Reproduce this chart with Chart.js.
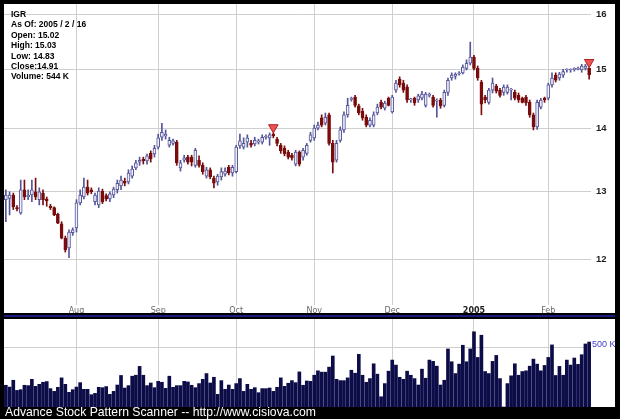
<!DOCTYPE html>
<html>
<head>
<meta charset="utf-8">
<script src="https://cdn.jsdelivr.net/npm/chart.js@4.4.1/dist/chart.umd.min.js"></script>
<style>
  html, body { margin: 0; padding: 0; background: #000; }
  body { width: 620px; height: 419px; position: relative; overflow: hidden; font-family: 'Liberation Sans', Arial, sans-serif; }
  #price { position: absolute; left: 4px; top: 4px; background: #fff; }
  #volume { position: absolute; left: 4px; top: 319px; background: #fff; }
  #sep { position: absolute; left: 4px; top: 315px; width: 611px; height: 2px; background: #1a1a80; }
  #info { position: absolute; left: 11px; top: 9px; font-size: 8.5px; line-height: 10.4px; font-weight: bold; color: #000; }
  #footer { position: absolute; left: 5px; top: 406px; font-size: 12.2px; line-height: 13px; color: #fff; white-space: nowrap; }
</style>
</head>
<body>
<canvas id="price" width="611" height="309"></canvas>
<div id="sep"></div>
<canvas id="volume" width="611" height="88"></canvas>
<div id="info">IGR<br>As Of: 2005 / 2 / 16<br>Open: 15.02<br>High: 15.03<br>Low: 14.83<br>Close:14.91<br>Volume: 544 K</div>
<div id="footer">Advance Stock Pattern Scanner -- http://www.cisiova.com</div>
<script>
// daily candles, 2004/7/6 .. 2005/2/16
var opens = [
  12.87,12.89,12.94,12.75,12.67,13.02,12.91,12.94,12.99,12.87,
  12.97,12.88,12.77,12.75,12.65,12.51,12.30,12.16,12.38,12.45,
  12.82,12.91,13.06,13.02,12.84,12.79,13.00,12.93,12.88,12.94,
  13.02,13.08,13.15,13.14,13.23,13.36,13.45,13.50,13.47,13.59,
  13.58,13.69,13.85,13.87,13.72,13.75,13.77,13.36,13.48,13.53,
  13.53,13.40,13.48,13.40,13.23,13.33,13.20,13.14,13.22,13.26,
  13.37,13.28,13.30,13.71,13.69,13.77,13.75,13.74,13.77,13.77,
  13.85,13.84,13.90,13.82,13.72,13.67,13.61,13.56,13.42,13.61,
  13.53,13.59,13.80,13.84,14.00,14.17,14.08,14.22,13.75,13.48,
  13.80,13.97,14.22,14.48,14.52,14.37,14.28,14.18,14.05,14.05,
  14.25,14.43,14.33,14.50,14.27,14.64,14.83,14.76,14.69,14.47,
  14.50,14.47,14.50,14.38,14.55,14.52,14.45,14.47,14.38,14.60,
  14.85,14.88,14.92,14.94,15.02,15.11,15.22,15.02,14.78,14.52,
  14.43,14.64,14.71,14.64,14.60,14.60,14.64,14.60,14.55,14.50,
  14.52,14.43,14.22,14.02,14.35,14.50,14.50,14.73,14.90,14.85,
  14.90,14.99,14.99,15.00,15.00,14.99,15.02,15.02];
var closes = [
  12.94,12.94,12.76,12.73,13.02,12.91,12.94,13.02,12.91,12.99,
  12.87,12.85,12.75,12.64,12.52,12.30,12.13,12.39,12.42,12.82,
  12.94,13.06,12.97,12.99,12.94,13.00,12.84,12.88,12.96,13.03,
  13.12,13.17,13.12,13.28,13.34,13.44,13.48,13.47,13.55,13.50,
  13.67,13.84,13.93,13.90,13.80,13.79,13.44,13.44,13.52,13.45,
  13.45,13.64,13.40,13.30,13.33,13.22,13.12,13.23,13.30,13.31,
  13.28,13.37,13.69,13.79,13.75,13.84,13.72,13.80,13.79,13.85,
  13.86,13.89,13.87,13.75,13.63,13.58,13.53,13.52,13.61,13.42,
  13.64,13.72,13.89,14.00,14.05,14.05,14.18,13.75,13.45,13.75,
  13.97,14.22,14.38,14.50,14.38,14.25,14.17,14.05,14.13,14.22,
  14.35,14.35,14.42,14.38,14.52,14.76,14.73,14.64,14.47,14.49,
  14.42,14.54,14.57,14.57,14.56,14.38,14.46,14.37,14.60,14.81,
  14.90,14.92,14.93,15.04,15.11,15.22,15.02,14.85,14.40,14.47,
  14.64,14.76,14.62,14.55,14.69,14.69,14.65,14.50,14.47,14.43,
  14.42,14.22,14.02,14.43,14.47,14.47,14.73,14.85,14.81,14.92,
  14.96,15.00,15.00,15.01,15.02,15.06,15.06,14.91];
var highs = [
  13.02,12.99,12.97,12.78,13.17,13.17,13.02,13.17,13.20,13.05,
  13.02,12.91,12.80,12.76,12.67,12.54,12.33,12.42,12.45,12.87,
  13.02,13.20,13.17,13.05,12.97,13.05,13.03,12.96,12.99,13.06,
  13.17,13.23,13.20,13.33,13.39,13.48,13.53,13.53,13.58,13.63,
  13.72,13.90,14.08,13.97,13.85,13.82,13.80,13.48,13.56,13.56,
  13.56,13.67,13.55,13.44,13.37,13.36,13.23,13.26,13.36,13.36,
  13.40,13.40,13.72,13.90,13.84,13.89,13.80,13.85,13.82,13.89,
  13.89,13.92,13.92,13.85,13.75,13.71,13.64,13.59,13.64,13.63,
  13.67,13.75,13.93,14.05,14.10,14.22,14.25,14.25,13.80,13.80,
  14.02,14.27,14.50,14.52,14.55,14.40,14.33,14.22,14.17,14.27,
  14.40,14.47,14.45,14.52,14.55,14.81,14.87,14.81,14.73,14.50,
  14.52,14.57,14.62,14.60,14.59,14.55,14.49,14.50,14.64,14.85,
  14.94,14.94,14.96,15.08,15.17,15.49,15.25,15.06,14.81,14.55,
  14.67,14.85,14.74,14.67,14.73,14.73,14.67,14.64,14.59,14.52,
  14.55,14.47,14.25,14.47,14.50,14.52,14.76,14.94,14.94,14.95,
  15.00,15.01,15.01,15.03,15.04,15.09,15.09,15.03];
var lows = [
  12.54,12.64,12.72,12.70,12.65,12.87,12.87,12.84,12.87,12.79,
  12.79,12.77,12.72,12.63,12.51,12.29,12.10,12.02,12.34,12.39,
  12.79,12.88,12.94,12.96,12.79,12.75,12.81,12.85,12.84,12.90,
  12.97,13.02,13.08,13.11,13.20,13.33,13.40,13.42,13.42,13.45,
  13.53,13.66,13.80,13.82,13.69,13.72,13.40,13.31,13.45,13.42,
  13.39,13.37,13.37,13.26,13.20,13.19,13.05,13.09,13.17,13.23,
  13.25,13.23,13.28,13.67,13.66,13.69,13.69,13.71,13.74,13.74,
  13.82,13.72,13.84,13.71,13.59,13.55,13.50,13.48,13.39,13.39,
  13.48,13.56,13.77,13.80,13.97,14.02,14.05,13.72,13.28,13.45,
  13.77,13.93,14.18,14.45,14.35,14.22,14.13,14.02,14.02,14.02,
  14.22,14.32,14.30,14.37,14.25,14.60,14.69,14.60,14.43,14.43,
  14.38,14.43,14.47,14.35,14.52,14.35,14.18,14.33,14.35,14.55,
  14.81,14.83,14.90,14.92,14.99,15.08,14.99,14.81,14.22,14.42,
  14.40,14.59,14.59,14.52,14.55,14.57,14.47,14.47,14.43,14.42,
  14.38,14.18,13.97,13.98,14.32,14.43,14.47,14.69,14.78,14.81,
  14.86,14.95,14.95,14.97,14.99,14.95,14.99,14.83];
// volume in K shares
var volumes = [
  182,167,224,139,145,182,179,232,173,190,
  207,213,154,131,165,244,190,123,145,167,
  204,148,148,103,114,165,162,171,106,131,
  184,264,159,179,258,266,340,266,179,201,
  162,215,207,156,258,165,179,179,215,210,
  182,162,196,232,280,201,249,106,221,148,
  184,148,196,238,131,190,148,162,120,154,
  154,159,131,165,244,173,199,221,204,294,
  182,218,215,266,303,292,292,334,427,232,
  221,221,244,308,283,441,266,207,238,362,
  275,86,196,300,393,351,249,232,300,266,
  238,184,317,241,393,382,342,184,224,486,
  379,280,359,517,379,486,630,415,601,297,
  280,382,432,238,0,196,261,362,266,297,
  303,342,401,359,303,348,415,520,264,340,
  266,393,351,410,357,438,528,544];

var monthNames = ['Aug', 'Sep', 'Oct', 'Nov', 'Dec', '2005', 'Feb'];
var monthStart = [19, 41, 62, 83, 104, 126, 146];
var priceTicks = [12, 13, 14, 15, 16];
var volumeTicks = [500];
var markers = [72, 157]; // pattern signals

var UP = '#55559a', UPFILL = '#eeeef6', DOWN = '#7a0c0c', GRID = '#cfcfcf';
var FONT = "'Liberation Sans', Arial, sans-serif";

var labels = opens.map(function(o, i){ return i; });
var isUp = function(i){ return closes[i] >= opens[i]; };

//keep the plot area fixed, no room for edge labels
var noPad = function(s){ s.paddingLeft = s.paddingRight = s.paddingTop = s.paddingBottom = 0; };

var monthAxis = function(showLabels){
  return {
    type: 'category', offset: true,
    grid: { color: GRID, offset: false, drawTicks: false },
    border: { display: false },
    afterBuildTicks: function(s){ s.ticks = monthStart.map(function(v){ return { value: v }; }); },
    afterFit: function(s){ s.height = showLabels ? 8 : 0; noPad(s); },
    ticks: {
      display: showLabels, autoSkip: false, maxRotation: 0, padding: 1,
      color: function(c){ return c.index === 5 ? '#222' : '#6a6a6a'; },
      font: function(c){ return { family: "'DejaVu Sans', Verdana, sans-serif", size: 8, weight: c.index === 5 ? 'bold' : 'normal' }; },
      callback: function(v, i){ return monthNames[i]; }
    }
  };
};

var markerData = labels.map(function(i){
  return markers.indexOf(i) >= 0 ? highs[i] * 1.0065 : null;
});

new Chart(document.getElementById('price'), {
  type: 'bar',
  data: {
    labels: labels,
    datasets: [{
      type: 'line', data: markerData, showLine: false, order: 0,
      pointStyle: 'triangle', rotation: 180, pointRadius: 5.5,
      backgroundColor: '#e85454', borderColor: '#b82020', borderWidth: 1
    }, {
      data: opens.map(function(o, i){ return [o, closes[i]]; }), order: 1,
      grouped: false, barThickness: 3, minBarLength: 1, borderWidth: 1, borderSkipped: false,
      backgroundColor: labels.map(function(i){ return isUp(i) ? UPFILL : DOWN; }),
      borderColor: labels.map(function(i){ return isUp(i) ? UP : DOWN; })
    }, {
      data: lows.map(function(l, i){ return [l, highs[i]]; }), order: 2,
      grouped: false, barThickness: 1,
      backgroundColor: labels.map(function(i){ return isUp(i) ? UP : DOWN; })
    }]
  },
  options: {
    responsive: false, animation: false,
    layout: { padding: 0, autoPadding: false },
    plugins: { legend: { display: false }, tooltip: { enabled: false } },
    scales: {
      x: monthAxis(true),
      y: {
        type: 'logarithmic', position: 'right', min: 11.37, max: 16.2,
        grid: { color: GRID, drawTicks: false },
        border: { display: false },
        afterBuildTicks: function(s){ s.ticks = priceTicks.map(function(v){ return { value: v }; }); },
        afterFit: function(s){ s.width = 24; noPad(s); },
        ticks: { padding: 5, color: '#222', font: { family: FONT, size: 9.5, weight: 'bold' }, callback: function(v){ return String(v); } }
      }
    }
  }
});

new Chart(document.getElementById('volume'), {
  type: 'bar',
  data: {
    labels: labels,
    datasets: [{ data: volumes, barThickness: 3, backgroundColor: '#0c0c48' }]
  },
  options: {
    responsive: false, animation: false,
    layout: { padding: 0, autoPadding: false },
    plugins: { legend: { display: false }, tooltip: { enabled: false } },
    scales: {
      x: monthAxis(false),
      y: {
        position: 'right', min: 0, max: 737,
        grid: { color: GRID, drawTicks: false },
        border: { display: false },
        afterBuildTicks: function(s){ s.ticks = volumeTicks.map(function(v){ return { value: v }; }); },
        afterFit: function(s){ s.width = 24; noPad(s); },
        ticks: { padding: 1, labelOffset: -3, color: '#4040c8', font: { family: FONT, size: 9 }, callback: function(v){ return v + ' K'; } }
      }
    }
  }
});
</script>
</body>
</html>
